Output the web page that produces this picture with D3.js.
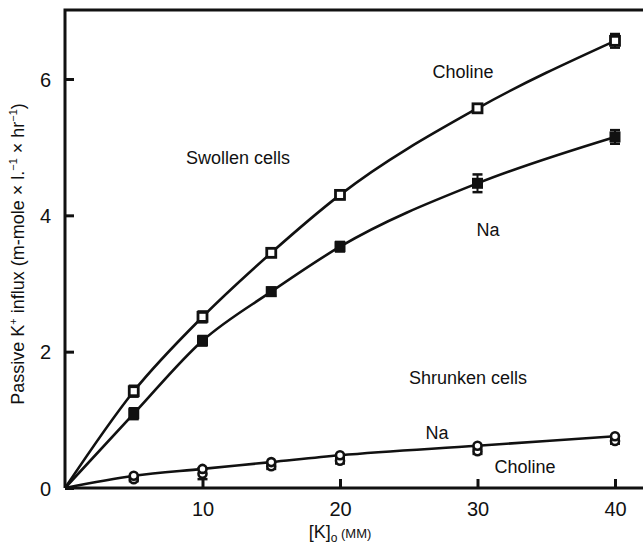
<!DOCTYPE html>
<html>
<head>
  <script src="https://d3js.org/d3.v7.min.js"></script>
  <style>
    body { margin: 0; background: #fff; font-family: "Liberation Sans", Arial, Helvetica, sans-serif; }
    .ann { font-size: 18px; fill: #111; }
    .axis text { font-size: 20px; fill: #111; font-family: "Liberation Sans", Arial, sans-serif; }
    .axis path, .axis line { stroke: #111; stroke-width: 3; }
  </style>
</head>
<body>
  <div id="chart"></div>
  <script>
const width = 643;
const height = 550;
const margin = { top: 10, right: 28, bottom: 62, left: 65 };

// [K]o in mM
const conc = [5, 10, 15, 20, 30, 40];

// swollen cells
const swollenCholine = [1.42, 2.51, 3.45, 4.30, 5.57, 6.56];
const swollenCholineErr = [0.08, 0.08, 0.06, 0.06, 0.05, 0.10];
const swollenNa = [1.09, 2.16, 2.88, 3.54, 4.47, 5.15];
const swollenNaErr = [0.08, 0.07, 0.06, 0.07, 0.13, 0.10];

// shrunken cells
const shrunkenNa = [0.18, 0.28, 0.38, 0.48, 0.62, 0.76];
const shrunkenCholine = [0.13, 0.21, 0.32, 0.40, 0.54, 0.69];
const shrunkenCholineErr = [0.03, 0.08, 0.04, 0.04, 0.04, 0.04];

const xTicks = [10, 20, 30, 40];
const yTicks = [0, 2, 4, 6];

const svg = d3.select("#chart")
  .append("svg")
  .attr("width", width)
  .attr("height", height);

const x = d3.scaleLinear()
  .domain([0, 40])
  .range([margin.left, width - margin.right]);

const y = d3.scaleLinear()
  .domain([0, 6])
  .range([height - margin.bottom, 79]);

// axes
svg.append("g")
  .attr("class", "axis")
  .attr("transform", `translate(0,${y(0)})`)
  .call(d3.axisBottom(x).tickValues(xTicks).tickSizeInner(-9).tickSizeOuter(0).tickPadding(14))
  .call(g => g.select(".domain").attr("d", `M${margin.left},0H${width}`));

svg.append("g")
  .attr("class", "axis")
  .attr("transform", `translate(${margin.left},0)`)
  .call(d3.axisLeft(y).tickValues(yTicks).tickFormat(d3.format("d")).tickSizeInner(-9).tickSizeOuter(0).tickPadding(14))
  .call(g => g.select(".domain").attr("d", `M0,${y(0)}V${margin.top}H${width}`))
  .call(g => g.selectAll(".tick text").attr("dy", "0.36em"));

// lines, through origin
const line = d3.line()
  .x(d => x(d[0]))
  .y(d => y(d[1]))
  .curve(d3.curveMonotoneX);

function withOrigin(vals) {
  return [[0, 0]].concat(conc.map((c, i) => [c, vals[i]]));
}

[swollenCholine, swollenNa, shrunkenNa].forEach(vals => {
  svg.append("path")
    .datum(withOrigin(vals))
    .attr("fill", "none")
    .attr("stroke", "#111")
    .attr("stroke-width", 2.6)
    .attr("d", line);
});

// error bars
function errorBars(vals, errs) {
  const g = svg.append("g").attr("stroke", "#111").attr("stroke-width", 2);
  conc.forEach((c, i) => {
    const cx = x(c), y1 = y(vals[i] - errs[i]), y2 = y(vals[i] + errs[i]);
    g.append("line").attr("x1", cx).attr("x2", cx).attr("y1", y1).attr("y2", y2);
    g.append("line").attr("x1", cx - 5).attr("x2", cx + 5).attr("y1", y1).attr("y2", y1).attr("stroke-width", 2.5);
    g.append("line").attr("x1", cx - 5).attr("x2", cx + 5).attr("y1", y2).attr("y2", y2).attr("stroke-width", 2.5);
  });
}
errorBars(swollenCholine, swollenCholineErr);
errorBars(swollenNa, swollenNaErr);
errorBars(shrunkenCholine, shrunkenCholineErr);

// markers
svg.append("g").selectAll("rect")
  .data(swollenCholine)
  .join("rect")
    .attr("x", (d, i) => x(conc[i]) - 4.5)
    .attr("y", d => y(d) - 4.5)
    .attr("width", 9)
    .attr("height", 9)
    .attr("fill", "#fff")
    .attr("stroke", "#111")
    .attr("stroke-width", 2.8);

svg.append("g").selectAll("rect")
  .data(swollenNa)
  .join("rect")
    .attr("x", (d, i) => x(conc[i]) - 5.5)
    .attr("y", d => y(d) - 5.5)
    .attr("width", 11)
    .attr("height", 11)
    .attr("fill", "#111");

[shrunkenCholine, shrunkenNa].forEach(vals => {
  svg.append("g").selectAll("circle")
    .data(vals)
    .join("circle")
      .attr("cx", (d, i) => x(conc[i]))
      .attr("cy", d => y(d))
      .attr("r", 4)
      .attr("fill", "#fff")
      .attr("stroke", "#111")
      .attr("stroke-width", 2.6);
});

// annotations
const ann = [
  { t: "Choline", x: 463, y: 72 },
  { t: "Swollen cells", x: 238, y: 158 },
  { t: "Na", x: 488, y: 230 },
  { t: "Shrunken cells", x: 468, y: 378 },
  { t: "Na", x: 437, y: 433 },
  { t: "Choline", x: 525, y: 467 }
];
svg.append("g").selectAll("text")
  .data(ann)
  .join("text")
    .attr("class", "ann")
    .attr("x", d => d.x)
    .attr("y", d => d.y)
    .attr("text-anchor", "middle")
    .attr("dy", "0.35em")
    .text(d => d.t);

// axis titles
const xt = svg.append("text")
  .attr("class", "ann")
  .attr("x", (x(0) + x(40)) / 2)
  .attr("y", 538)
  .attr("text-anchor", "middle")
  .attr("font-size", 17);
xt.append("tspan").text("[K]");
xt.append("tspan").attr("font-size", 12).attr("dy", 4).text("o");
xt.append("tspan").attr("font-size", 13).attr("dy", -4).text(" (MM)");

const yt = svg.append("text")
  .attr("class", "ann")
  .attr("transform", `translate(24,${(y(0) + margin.top) / 2 + 5}) rotate(-90)`)
  .attr("text-anchor", "middle")
  .attr("font-size", 17);
yt.append("tspan").text("Passive K");
yt.append("tspan").attr("font-size", 11).attr("dy", -7).text("+");
yt.append("tspan").attr("dy", 7).text(" influx (m-mole × l.");
yt.append("tspan").attr("font-size", 11).attr("dy", -7).text("−1");
yt.append("tspan").attr("dy", 7).text(" × hr");
yt.append("tspan").attr("font-size", 11).attr("dy", -7).text("−1");
yt.append("tspan").attr("dy", 7).text(")");
  </script>
</body>
</html>
